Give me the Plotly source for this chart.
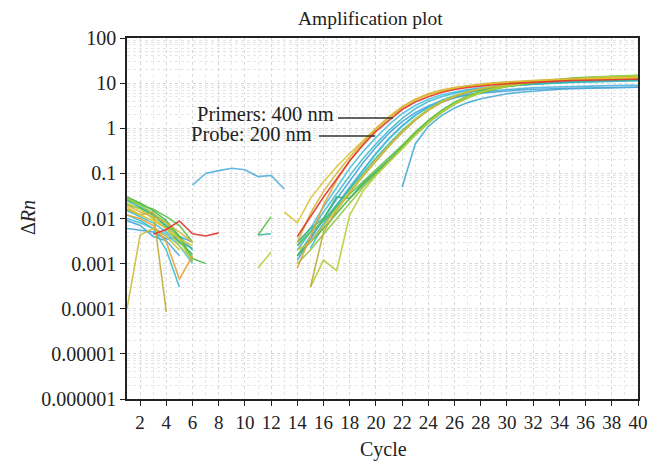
import plotly.graph_objects as go

N = None
cycles = list(range(1, 41))

# ---- series values (cycles 1..40), None = not shown (non-positive / missing) ----
red = [N, N, 0.0045, 0.0057, 0.0088, 0.0046, 0.0041, 0.0048, N, N, N, N, N,
       0.004, 0.011, 0.03, 0.075, 0.19, 0.42, 0.85, 1.5, 2.6, 3.8, 5.0, 6.2, 7.2, 8.0,
       8.7, 9.2, 9.7, 10.1, 10.5, 10.8, 11.1, 11.4, 11.6, 11.8, 11.9, 12.0, 12.2]
yellow_top = [0.018, 0.012, 0.009, 0.006, 0.0035, 0.0025, N, N, N, N, N, N, 0.014,
              0.008, 0.028, 0.065, 0.14, 0.28, 0.52, 1.0, 1.75, 2.9, 4.2, 5.5, 6.7, 7.7, 8.5,
              9.2, 9.8, 10.3, 10.8, 11.2, 11.6, 11.9, 12.2, 12.5, 12.7, 12.9, 13.1, 13.3]
orange = [0.012, 0.01, 0.007, 0.003, 0.00045, 0.0015, N, N, N, N, N, N, N,
          0.0008, 0.004, 0.02, 0.07, 0.19, 0.45, 0.95, 1.7, 2.9, 4.3, 5.6, 6.8, 7.8, 8.6,
          9.3, 9.9, 10.4, 10.8, 11.2, 11.5, 11.8, 12.1, 12.3, 12.5, 12.7, 12.8, 12.9]
gold = [0.02, 0.014, 0.011, 0.008, 0.005, 0.003, N, N, N, N, N, N, N,
        0.003, 0.013, 0.04, 0.1, 0.23, 0.5, 1.0, 1.8, 3.0, 4.4, 5.8, 7.0, 8.0, 8.9,
        9.6, 10.2, 10.7, 11.1, 11.5, 11.9, 12.2, 12.5, 12.7, 12.9, 13.1, 13.3, 13.4]
cyan3 = [0.01, 0.008, 0.006, 0.0045, 0.0025, 0.001, N, N, N, N, N, N, N,
         0.0025, 0.006, 0.018, 0.05, 0.13, 0.3, 0.62, 1.2, 2.1, 3.2, 4.4, 5.5, 6.4, 7.2,
         7.9, 8.5, 9.0, 9.4, 9.8, 10.1, 10.4, 10.6, 10.8, 11.0, 11.2, 11.3, 11.4]
cyan1 = [0.015, 0.011, 0.008, 0.005, 0.003, 0.0022, N, N, N, N, N, N, N,
         0.002, 0.005, 0.014, 0.036, 0.09, 0.21, 0.45, 0.9, 1.65, 2.7, 3.9, 5.0, 6.0, 6.9,
         7.6, 8.2, 8.7, 9.1, 9.5, 9.8, 10.1, 10.4, 10.6, 10.8, 11.0, 11.2, 11.3]
blue1 = [0.006, 0.0055, 0.005, 0.0035, 0.004, 0.003, N, N, N, N, N, N, N,
         0.0012, 0.0035, 0.01, 0.027, 0.07, 0.17, 0.38, 0.78, 1.4, 2.2, 3.1, 4.0, 4.8, 5.5,
         6.0, 6.4, 6.8, 7.1, 7.3, 7.5, 7.6, 7.7, 7.8, 7.9, 8.0, 8.0, 8.1]
cyan2 = [0.012, 0.009, 0.006, 0.002, 0.0003, N, N, N, N, N, N, N, N,
         N, 0.0022, 0.007, 0.019, 0.048, 0.115, 0.27, 0.58, 1.1, 1.9, 3.0, 4.2, 5.3, 6.3,
         7.2, 7.9, 8.6, 9.1, 9.6, 10.0, 10.3, 10.6, 10.9, 11.1, 11.3, 11.5, 11.6]
blue_hump = [N, N, N, N, N, 0.055, 0.1, 0.115, 0.13, 0.12, 0.085, 0.09, 0.045,
             N, 0.003, 0.008, 0.02, 0.05, 0.12, 0.28, 0.6, 1.15, 1.95, 2.9, 3.8, 4.7, 5.5,
             6.2, 6.8, 7.2, 7.6, 7.9, 8.1, 8.3, 8.5, 8.6, 8.7, 8.8, 8.9, 9.0]
teal = [0.025, 0.018, 0.012, 0.007, 0.004, 0.002, N, N, N, N, 0.0043, 0.0046, N,
        0.0015, 0.004, 0.009, 0.02, 0.045, 0.1, 0.22, 0.45, 0.9, 1.6, 2.6, 3.8, 5.0, 6.1,
        7.0, 7.8, 8.5, 9.1, 9.6, 10.0, 10.4, 10.7, 11.0, 11.2, 11.4, 11.6, 11.8]
olive = [0.0001, 0.0043, 0.006, 0.004, 0.002, N, N, N, N, N, N, N, N,
         0.002, 0.003, 0.007, 0.016, 0.04, 0.09, 0.2, 0.42, 0.85, 1.6, 2.6, 3.9, 5.2, 6.5,
         7.6, 8.6, 9.4, 10.1, 10.7, 11.2, 11.6, 12.0, 12.3, 12.6, 12.8, 13.0, 13.2]
olive2 = [0.016, 0.012, 0.014, 0.000085, N, N, N, N, N, N, N, N, N,
          N, 0.0003, 0.005, 0.015, 0.037, 0.085, 0.19, 0.4, 0.8, 1.5, 2.5, 3.7, 5.0, 6.3,
          7.4, 8.4, 9.2, 9.9, 10.5, 11.0, 11.4, 11.8, 12.1, 12.4, 12.6, 12.8, 13.0]
green1 = [0.03, 0.022, 0.015, 0.009, 0.004, 0.0013, 0.001, N, N, N, N, N, N,
          0.0015, 0.003, 0.006, 0.013, 0.028, 0.055, 0.1, 0.19, 0.38, 0.75, 1.4, 2.3, 3.5, 4.8,
          6.2, 7.4, 8.5, 9.5, 10.3, 11.0, 11.7, 12.3, 12.8, 13.3, 13.7, 14.1, 14.5]
green2 = [0.026, 0.02, 0.016, 0.011, 0.007, 0.003, N, N, N, N, 0.0043, 0.011, N,
          0.0025, 0.005, 0.009, 0.018, 0.035, 0.065, 0.12, 0.22, 0.42, 0.82, 1.5, 2.5, 3.8, 5.2,
          6.6, 7.9, 9.0, 10.0, 10.9, 11.6, 12.3, 12.9, 13.4, 13.9, 14.3, 14.7, 15.0]
yellowgreen = [0.022, 0.016, 0.01, 0.006, 0.0025, 0.0012, N, N, N, N, 0.0008, 0.0018, N,
               N, 0.0003, 0.0012, 0.0007, 0.012, 0.04, 0.09, 0.18, 0.36, 0.72, 1.35, 2.3, 3.5, 4.9,
               6.3, 7.6, 8.7, 9.7, 10.6, 11.3, 12.0, 12.6, 13.1, 13.6, 14.0, 14.4, 14.7]
lime = [0.028, 0.02, 0.013, 0.008, 0.0035, 0.0011, N, N, N, N, N, N, N,
        0.001, 0.002, 0.0045, 0.01, 0.022, 0.048, 0.095, 0.18, 0.35, 0.7, 1.3, 2.2, 3.4, 4.7,
        6.1, 7.3, 8.4, 9.4, 10.2, 11.0, 11.6, 12.2, 12.7, 13.2, 13.6, 14.0, 14.3]
seagreen = [0.02, 0.017, 0.012, 0.0065, 0.003, 0.0016, N, N, N, N, N, N, N,
            0.003, 0.006, 0.01, 0.03, 0.028, 0.06, 0.11, 0.2, 0.4, 0.78, 1.45, 2.4, 3.6, 5.0,
            6.4, 7.7, 8.8, 9.8, 10.6, 11.3, 12.0, 12.6, 13.1, 13.5, 13.9, 14.3, 14.6]
blue_late = [0.009, 0.007, 0.004, 0.0032, 0.0015, N, N, N, N, N, N, N, N,
             N, N, N, N, N, N, N, N, 0.05, 0.45, 1.1, 1.9, 2.8, 3.7,
             4.5, 5.2, 5.8, 6.3, 6.7, 7.0, 7.3, 7.5, 7.7, 7.8, 7.9, 8.0, 8.1]

series = [
    (blue_late, "#48acd9"), (blue_hump, "#52b2dc"), (blue1, "#4aa5d9"),
    (cyan3, "#50c2dc"), (cyan2, "#3fbfd0"), (cyan1, "#45bbd6"),
    (teal, "#36b8a6"), (seagreen, "#3db57c"), (green1, "#4cb848"),
    (green2, "#5ec04a"), (lime, "#8fc83f"), (yellowgreen, "#b7cf3b"),
    (olive2, "#bfae3a"), (olive, "#cdbf3c"), (gold, "#d6b43a"),
    (orange, "#e6a23c"), (yellow_top, "#dcc534"), (red, "#e1362c"),
]

ytick_vals = [1e-6, 1e-5, 1e-4, 1e-3, 1e-2, 1e-1, 1, 10, 100]
ytick_text = ["0.000001", "0.00001", "0.0001", "0.001", "0.01", "0.1", "1", "10", "100"]
xtick_vals = list(range(2, 41, 2))

FONT = "Liberation Serif"

fig = go.Figure()
for vals, col in series:
    fig.add_trace(go.Scatter(x=cycles, y=vals, mode="lines",
                             line=dict(color=col, width=1.6), opacity=0.9,
                             showlegend=False, hoverinfo="skip"))

W, H = 648, 461
L, R, T, B = 127, 638, 38, 399   # plot box in window pixels


def px(x):
    return (x - L) / (R - L)


def py(y):
    return (B - y) / (B - T)


grid = "#d9d9d9"
fig.update_layout(
    width=W, height=H,
    margin=dict(l=L, r=W - R, t=T, b=H - B, autoexpand=False),
    paper_bgcolor="white", plot_bgcolor="white",
    font=dict(family=FONT, size=19, color="#222"),
    xaxis=dict(range=[1, 40], tickvals=xtick_vals, ticks="outside", ticklen=5,
               tickcolor="#222", showline=True, linecolor="#222", linewidth=1.5,
               mirror=True, showgrid=True, gridcolor=grid, griddash="dot", gridwidth=1,
               zeroline=False, tickfont=dict(size=19), automargin=False,
               ticklabeloverflow="allow",
               minor=dict(dtick=1, tick0=1, showgrid=True, gridcolor="#e8e8e8",
                          griddash="dot", ticks="")),
    yaxis=dict(type="log", range=[-6, 2], tickvals=ytick_vals, ticktext=ytick_text,
               ticks="outside", ticklen=5, tickcolor="#222", showline=True,
               linecolor="#222", linewidth=1.5, mirror=True, showgrid=True,
               gridcolor=grid, griddash="dot", zeroline=False, tickfont=dict(size=20),
               automargin=False, ticklabeloverflow="allow",
               minor=dict(dtick="D1", showgrid=True, gridcolor="#e6e6e6",
                          griddash="dot", ticks="")),
)


def label(text, x, y, size, xanchor="center", angle=0):
    return dict(text=text, x=px(x), y=py(y), xref="paper", yref="paper",
                xanchor=xanchor, yanchor="middle", showarrow=False,
                textangle=angle, font=dict(size=size))


ann = [
    label("Amplification plot", 370, 18, 19.5),
    label("Cycle", 383, 449, 20),
    label("Δ<i>Rn</i>", 28, 218, 20, angle=-90),
    label("Primers: 400 nm", 336, 114, 20.5, xanchor="right"),
    label("Probe: 200 nm", 314, 134, 20.5, xanchor="right"),
]
fig.update_layout(annotations=ann)
fig.add_shape(type="line", xref="paper", yref="paper", x0=px(338), x1=px(393),
              y0=py(118), y1=py(118), line=dict(color="#333", width=1.3))
fig.add_shape(type="line", xref="paper", yref="paper", x0=px(319), x1=px(375),
              y0=py(136), y1=py(136), line=dict(color="#333", width=1.3))

# remove the page's default body margin so the figure fills the window exactly
fig.write_html("out.html",
               config={"displayModeBar": False},
               post_script="document.body.style.margin='0';"
                           "document.body.style.overflow='hidden';")
